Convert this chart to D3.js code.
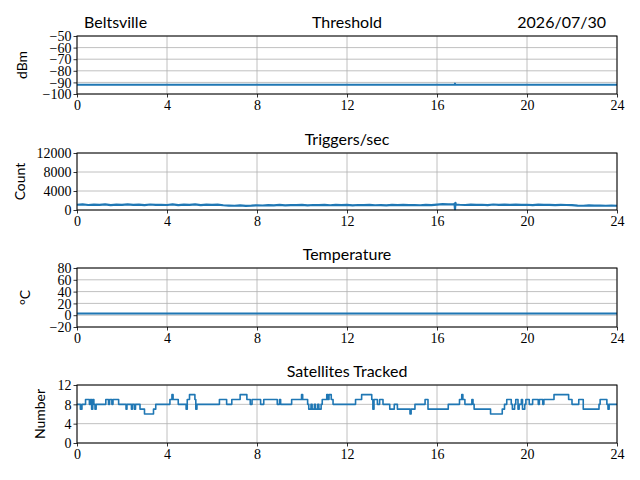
<!DOCTYPE html>
<html>
<head>
<meta charset="utf-8">
<script src="https://cdn.jsdelivr.net/npm/d3@7"></script>
<style>
  body { margin: 0; background: #fff; }
  .ttl { font-family: Lato, "DejaVu Sans", sans-serif; font-size: 16px; fill: #000; }
  svg g.axis text { font-family: "Liberation Serif", "DejaVu Serif", serif !important; font-size: 14px !important; }
</style>
</head>
<body>
<div id="chart"></div>
<script>
// hours on every x axis
const hour_ticks = [0, 4, 8, 12, 16, 20, 24];

// threshold (dBm)
const thr_hours = [0, 4, 8, 12, 16, 16.78, 16.8, 16.82, 20, 24];
const thr_values = [-92, -92, -92, -92, -92, -92, -91, -92, -92, -92];
const thr_ticks = [-100, -90, -80, -70, -60, -50];

// triggers per second, every quarter hour, plus the short drop near 16.8 h
const trig_hours = d3.range(0, 16.76, 0.25).concat([16.78, 16.8, 16.82, 16.84], d3.range(17, 24.01, 0.25));
const trig_values = [
  1100, 1180, 1050, 1150, 1080, 1200, 1020, 1120, 1060, 1170, 1090, 1140, 1010, 1160, 1070, 1110,
  1050, 1180, 1030, 1130, 1090, 1190, 1040, 1150, 1080, 1120, 1000, 940, 900, 960, 880, 920,
  1000, 950, 1030, 980, 1060, 970, 1040, 1010, 1080, 990, 1050, 1020, 1090, 1000, 1060, 1030,
  1070, 980, 1050, 1010, 1080, 1000, 1040, 990, 1060, 1020, 1090, 1030, 1050, 1000, 1080, 1020,
  1150, 1220, 1180, 1250,
  1300, 200, 1500, 1150,
  1100, 1050, 1130, 1070, 1110, 1040, 1160, 1080, 1120, 1060, 1140, 1070,
  1100, 1040, 1120, 1060, 1090, 1030, 1080, 1050, 1020, 940, 900, 960, 910, 950, 890, 930, 900
];
const trig_ticks = [0, 4000, 8000, 12000];

// temperature (°C)
const temp_hours = [0, 6, 12, 18, 24];
const temp_values = [3, 3, 3, 3, 3];
const temp_ticks = [-20, 0, 20, 40, 60, 80];

// satellites tracked, value holds from each hour until the next
const sat_hours = [
  0, 0.15, 0.22, 0.38, 0.55, 0.6, 0.65, 0.7, 0.75, 0.8, 0.85, 1.28, 1.4, 1.45, 1.55, 1.6, 1.85,
  2.18, 2.22, 2.42, 2.46, 2.55, 2.6, 2.8, 3.0, 3.4, 3.5, 4.13, 4.22, 4.27, 4.5, 4.85, 4.9, 5.0,
  5.24, 5.28, 5.33, 6.33, 6.65, 6.88, 7.25, 7.55, 7.7, 7.78, 8.16, 8.3, 8.9, 9.0, 9.05, 9.54,
  9.98, 10.03, 10.25, 10.3, 10.4, 10.45, 10.55, 10.6, 10.7, 10.75, 10.85, 10.9, 11.1, 11.15,
  11.2, 11.3, 11.38, 12.38, 12.65, 13.1, 13.15, 13.2, 13.35, 13.45, 13.6, 13.9, 14.1, 14.24,
  14.8, 14.85, 15.02, 15.47, 15.6, 16.5, 17.0, 17.1, 17.15, 17.24, 17.55, 17.6, 17.65, 18.38,
  18.9, 19.0, 19.1, 19.3, 19.35, 19.45, 19.5, 19.6, 19.65, 19.75, 19.8, 19.9, 19.95, 20.1,
  20.25, 20.5, 20.55, 20.7, 20.75, 21.2, 21.85, 22.0, 22.3, 22.5, 23.2, 23.25, 23.55, 23.6, 23.65, 24
];
const sat_values = [
  8, 7, 8, 9, 8, 9, 7, 9, 8, 7, 8, 9, 8, 9, 8, 9, 8,
  7, 8, 7, 8, 7, 8, 7, 6, 7, 8, 9, 10, 9, 8, 7, 9, 10,
  9, 7, 8, 9, 8, 9, 10, 9, 8, 9, 8, 9, 8, 9, 8, 9,
  10, 9, 8, 7, 8, 7, 8, 7, 8, 7, 8, 9, 10, 9,
  10, 9, 8, 9, 10, 9, 7, 9, 8, 9, 8, 7, 8, 7,
  6, 7, 8, 9, 7, 8, 9, 10, 9, 8, 9, 8, 7, 6,
  7, 8, 9, 8, 7, 8, 9, 7, 8, 9, 7, 8, 9, 8,
  9, 8, 9, 8, 9, 10, 9, 8, 9, 7, 8, 9, 8, 7, 8, 8
];
const sat_ticks = [0, 4, 8, 12];

const W = 640, H = 480;
const left = 77, right = 617;
const line_color = '#1f77b4';

const svg = d3.select('#chart').append('svg')
  .attr('width', W).attr('height', H);

const x_scale = d3.scaleLinear().domain([0, 24]).range([left, right]);

function style_ticks(a) {
  a.attr('class', 'axis');
  a.select('.domain').remove();
  a.selectAll('.tick line').attr('stroke', '#000').attr('stroke-width', 0.8);
  a.selectAll('.tick text').attr('fill', '#000');
}

function build_panel(top, bottom, ticks, title, ylabel, ylabel_x, hours, values, curve, lw) {
  const y_scale = d3.scaleLinear()
    .domain([ticks[0], ticks[ticks.length - 1]])
    .range([bottom, top]);

  const g = svg.append('g');

  // grid
  g.append('g')
    .selectAll('line').data(hour_ticks).join('line')
    .attr('x1', d => x_scale(d)).attr('x2', d => x_scale(d))
    .attr('y1', top).attr('y2', bottom)
    .attr('stroke', '#b0b0b0').attr('stroke-width', 0.8);
  g.append('g')
    .selectAll('line').data(ticks).join('line')
    .attr('x1', left).attr('x2', right)
    .attr('y1', d => y_scale(d)).attr('y2', d => y_scale(d))
    .attr('stroke', '#b0b0b0').attr('stroke-width', 0.8);

  // data line
  const line = d3.line()
    .x((d, i) => x_scale(hours[i]))
    .y(d => y_scale(d))
    .curve(curve);
  g.append('path')
    .datum(values)
    .attr('d', line)
    .attr('fill', 'none')
    .attr('stroke', line_color)
    .attr('stroke-width', lw)
    .attr('stroke-linejoin', 'round');

  // axes
  const x_axis = d3.axisBottom(x_scale)
    .tickValues(hour_ticks).tickSizeInner(3.5).tickSizeOuter(0).tickPadding(3);
  g.append('g')
    .attr('transform', `translate(0,${bottom})`)
    .call(x_axis)
    .call(style_ticks);

  const y_axis = d3.axisLeft(y_scale)
    .tickValues(ticks).tickSizeInner(3.5).tickSizeOuter(0).tickPadding(2)
    .tickFormat(d => d < 0 ? '\u2212' + Math.abs(d) : d);
  g.append('g')
    .attr('transform', `translate(${left},0)`)
    .call(y_axis)
    .call(style_ticks)
    .selectAll('.tick text').attr('dy', '0.34em');

  // frame
  g.append('rect')
    .attr('x', left).attr('y', top)
    .attr('width', right - left).attr('height', bottom - top)
    .attr('fill', 'none').attr('stroke', '#000').attr('stroke-width', 1);

  g.append('text')
    .attr('class', 'ttl')
    .attr('x', (left + right) / 2).attr('y', top - 8)
    .attr('text-anchor', 'middle')
    .text(title);

  g.append('text')
    .attr('class', 'ttl')
    .attr('transform', `translate(${ylabel_x},${(top + bottom) / 2}) rotate(-90)`)
    .attr('text-anchor', 'middle')
    .style('font-size', '14px')
    .text(ylabel);

  return g;
}

const p1 = build_panel(36, 94, thr_ticks, 'Threshold', 'dBm', 27, thr_hours, thr_values, d3.curveLinear, 2);
build_panel(153, 210, trig_ticks, 'Triggers/sec', 'Count', 25, trig_hours, trig_values, d3.curveLinear, 2.2);
build_panel(268, 327, temp_ticks, 'Temperature', '\u00b0C', 30, temp_hours, temp_values, d3.curveLinear, 2);
build_panel(385, 443, sat_ticks, 'Satellites Tracked', 'Number', 45, sat_hours, sat_values, d3.curveStepAfter, 1.6);

// station and date above the top panel
p1.append('text').attr('class', 'ttl')
  .attr('x', 84).attr('y', 28).text('Beltsville');
p1.append('text').attr('class', 'ttl')
  .attr('x', 606).attr('y', 28).attr('text-anchor', 'end').text('2026/07/30');
</script>
</body>
</html>
